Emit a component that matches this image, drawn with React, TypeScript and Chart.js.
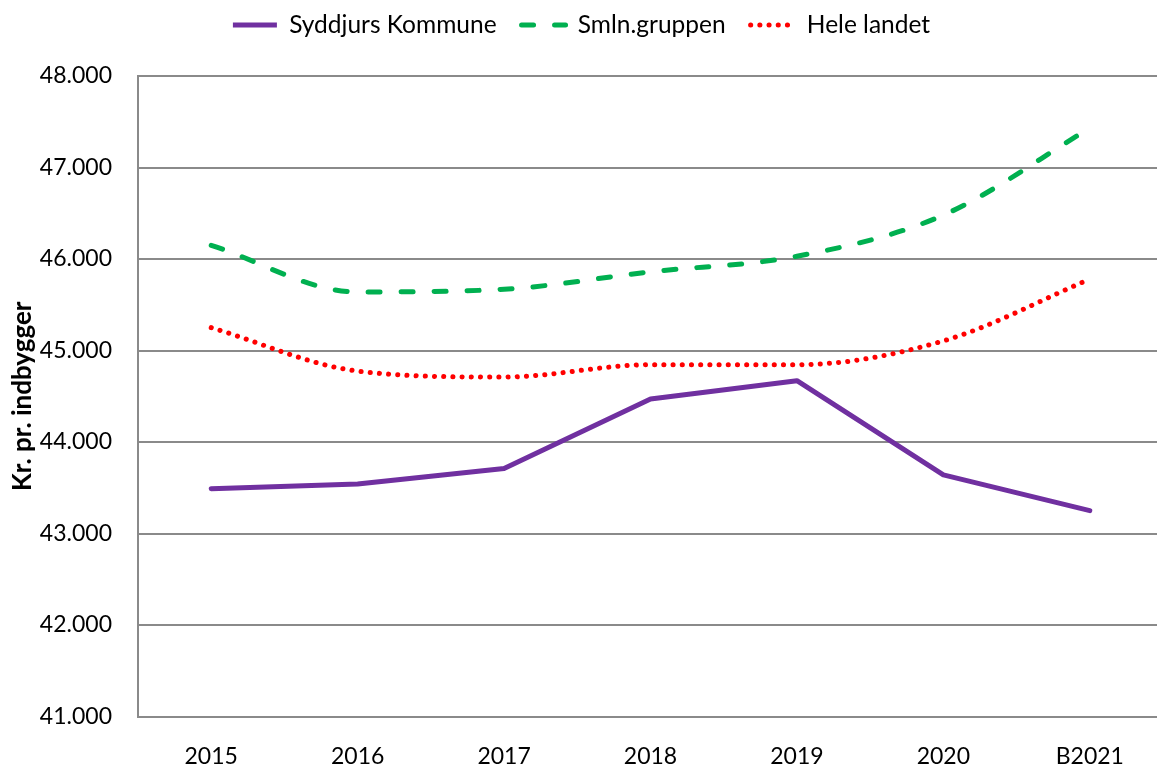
import React, { useEffect, useRef } from "react";
import { Chart, registerables } from "chart.js";

Chart.register(...registerables);

const categories = ["2015", "2016", "2017", "2018", "2019", "2020", "B2021"];
const syddjurs = [43490, 43540, 43710, 44470, 44670, 43640, 43250];
const smln = [46150, 45640, 45670, 45860, 46030, 46480, 47430];
const heleLandet = [45250, 44775, 44710, 44845, 44845, 45105, 45780];
const seriesNames = ["Syddjurs Kommune", "Smln.gruppen", "Hele landet"];
const yMin = 41000;
const yMax = 48000;
const yStep = 1000;
const yTitle = "Kr. pr. indbygger";

const FONT = "Lato, 'Open Sans', sans-serif";
const GRID = "#8a8a8a";

const fmt = (v: number) => {
  const s = Math.round(v).toString();
  return s.replace(/\B(?=(\d{3})+(?!\d))/g, ".");
};

const legendHeightPlugin = {
  id: "legendHeightFix",
  beforeLayout(chart: any) {
    const lg = chart.legend;
    if (lg && !lg.__patched) {
      const orig = lg.fit.bind(lg);
      lg.fit = function () {
        orig();
        this.height = 88.25;
      };
      lg.__patched = true;
    }
  },
};

export default function App() {
  const ref = useRef<HTMLCanvasElement | null>(null);
  useEffect(() => {
    if (!ref.current) return;
    const chart = new Chart(ref.current, {
      type: "line",
      data: {
        labels: categories,
        datasets: [
          {
            label: seriesNames[0],
            data: syddjurs,
            borderColor: "#7030a0",
            backgroundColor: "#7030a0",
            borderWidth: 5,
            pointRadius: 0,
            tension: 0,
            borderCapStyle: "round",
            borderJoinStyle: "round",
          },
          {
            label: seriesNames[1],
            data: smln,
            borderColor: "#00b050",
            backgroundColor: "#00b050",
            borderWidth: 5,
            borderDash: [12, 21],
            borderCapStyle: "round",
            pointRadius: 0,
            cubicInterpolationMode: "monotone",
          },
          {
            label: seriesNames[2],
            data: heleLandet,
            borderColor: "#ff0000",
            backgroundColor: "#ff0000",
            borderWidth: 5,
            borderDash: [0.1, 9.1],
            borderCapStyle: "round",
            pointRadius: 0,
            cubicInterpolationMode: "monotone",
          },
        ],
      },
      options: {
        animation: false,
        responsive: false,
        devicePixelRatio: 1,
        layout: { padding: { top: -12.25, right: 17, left: 0, bottom: 0 } },
        plugins: {
          tooltip: { enabled: false },
          legend: {
            display: true,
            position: "top",
            labels: {
              usePointStyle: true,
              pointStyleWidth: 44,
              boxHeight: 24.5,
              padding: 25,
              color: "#000",
              font: { family: FONT, size: 24.5 },
              generateLabels: (ch: any) =>
                ch.data.datasets.map((ds: any, i: number) => ({
                  text: ds.label,
                  fillStyle: ds.borderColor,
                  strokeStyle: ds.borderColor,
                  lineWidth: ds.borderWidth,
                  lineDash: ds.borderDash || [],
                  lineCap: i === 0 ? "butt" : "round",
                  pointStyle: "line",
                  datasetIndex: i,
                  hidden: false,
                  fontColor: "#000",
                })),
            },
          },
        },
        scales: {
          x: {
            type: "category",
            offset: true,
            grid: { display: false, drawTicks: false },
            border: { display: true, color: GRID, width: 2 },
            ticks: {
              color: "#000",
              font: { family: FONT, size: 23 },
              padding: 26,
              maxRotation: 0,
            },
            afterFit: (s: any) => {
              s.height = 52.5;
            },
          },
          y: {
            min: yMin,
            max: yMax,
            grid: { color: GRID, lineWidth: 2, drawTicks: false },
            border: { display: true, color: GRID, width: 2 },
            ticks: {
              stepSize: yStep,
              color: "#000",
              font: { family: FONT, size: 23 },
              padding: 26,
              callback: (v: any) => fmt(Number(v)),
            },
            title: {
              display: true,
              text: yTitle,
              color: "#000",
              font: { family: FONT, size: 26, weight: "bold" },
              padding: { top: 7.5, bottom: 0 },
            },
            afterFit: (s: any) => {
              s.width = 138;
            },
          },
        },
      },
      plugins: [legendHeightPlugin],
    } as any);
    return () => chart.destroy();
  }, []);

  return (
    <div
      style={{
        position: "fixed",
        left: 0,
        top: 0,
        width: 1157,
        height: 769,
        overflow: "hidden",
        background: "#fff",
      }}
    >
      <canvas ref={ref} width={1180} height={769} style={{ display: "block" }} />
    </div>
  );
}
